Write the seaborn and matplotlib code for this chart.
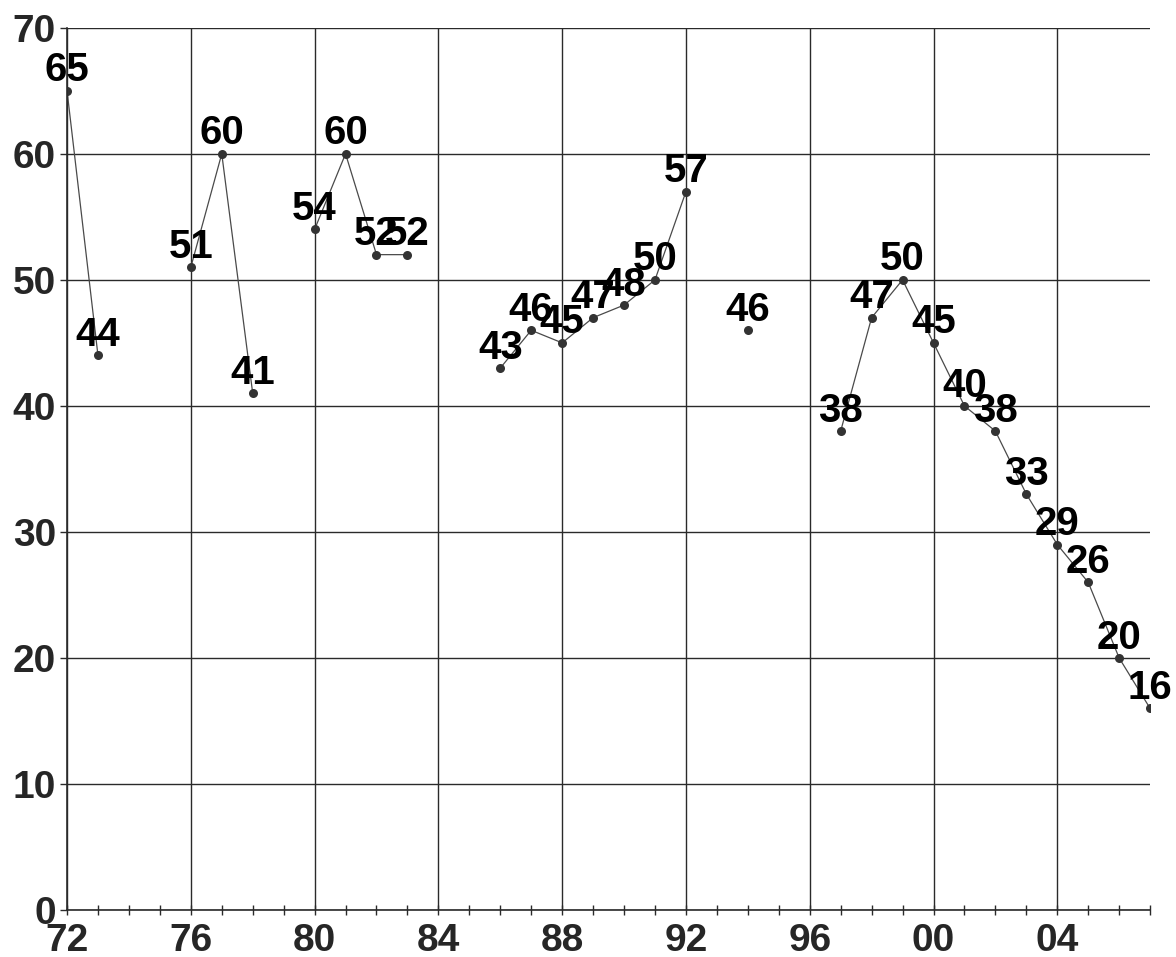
import pandas as pd
import numpy as np
import matplotlib
matplotlib.use('Agg')
import matplotlib.pyplot as plt
import seaborn as sbn
from matplotlib.ticker import MultipleLocator, FuncFormatter

years = [1972, 1973, 1976, 1977, 1978, 1980, 1981, 1982, 1983,
         1986, 1987, 1988, 1989, 1990, 1991, 1992, 1994,
         1997, 1998, 1999, 2000, 2001, 2002, 2003, 2004, 2005, 2006, 2007]
values = [65, 44, 51, 60, 41, 54, 60, 52, 52,
          43, 46, 45, 47, 48, 50, 57, 46,
          38, 47, 50, 45, 40, 38, 33, 29, 26, 20, 16]

df = pd.DataFrame({'year': years, 'value': values})
# break the line wherever a year is missing
df['seg'] = (df['year'].diff() != 1).cumsum()

sbn.set_style('white')
plt.rcParams['font.family'] = ['Liberation Sans', 'DejaVu Sans']
plt.rcParams['font.weight'] = 'bold'

fig = plt.figure(figsize=(11.76, 9.57), dpi=100)
ax = fig.add_axes([0.057, 0.049, 0.921, 0.922])

sbn.lineplot(data=df, x='year', y='value', units='seg', estimator=None,
             color='#4a4a4a', linewidth=0.9, marker='o', markersize=6.5,
             markerfacecolor='#333333', markeredgewidth=0, ax=ax, legend=False)

for x, y in zip(years, values):
    ax.annotate(str(y), (x, y), xytext=(0, 1), textcoords='offset points',
                ha='center', va='bottom', fontsize=29, fontweight='bold',
                color='black')

ax.set_xlim(1972, 2007)
ax.set_ylim(0, 70)
ax.xaxis.set_major_locator(MultipleLocator(4))
ax.xaxis.set_minor_locator(MultipleLocator(1))
ax.yaxis.set_major_locator(MultipleLocator(10))
ax.xaxis.set_major_formatter(FuncFormatter(lambda v, p: '%02d' % (int(round(v)) % 100)))

ax.grid(True, which='major', color='#2a2a2a', linewidth=1)
ax.set_axisbelow(True)
for s in ['top', 'right']:
    ax.spines[s].set_visible(False)
for s in ['left', 'bottom']:
    ax.spines[s].set_color('#2a2a2a')
    ax.spines[s].set_linewidth(1.2)

ax.tick_params(axis='x', which='both', direction='inout', length=7, width=1,
               color='#2a2a2a', labelsize=28, pad=6, bottom=True)
ax.tick_params(axis='y', which='major', direction='out', length=5, width=1,
               color='#2a2a2a', labelsize=28, pad=3, left=True)
for lab in ax.get_xticklabels() + ax.get_yticklabels():
    lab.set_fontweight('bold')

ax.set_xlabel('')
ax.set_ylabel('')

fig.savefig('out.png', dpi=100)
